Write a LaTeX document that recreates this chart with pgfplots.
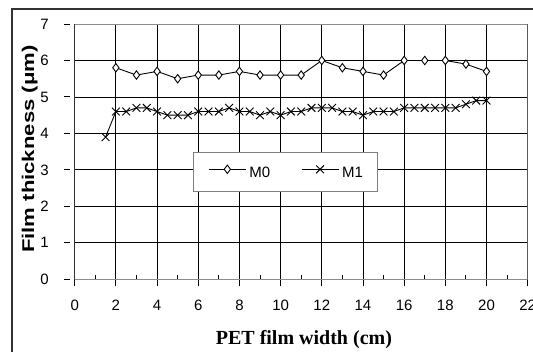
\documentclass[border=0pt]{standalone}
\usepackage{graphicx}
\usepackage{pgfplots}
\pgfplotsset{compat=1.18}
\usepackage{pgfplotstable}
\usepackage{fontspec}
\setmainfont{Liberation Sans}
\newfontfamily\timesfont{Liberation Serif}

\pgfplotstableread{
x y
2 5.8
3 5.6
4 5.7
5 5.5
6 5.6
7 5.6
8 5.7
9 5.6
10 5.6
11 5.6
12 6.0
13 5.8
14 5.7
15 5.6
16 6.0
17 6.0
18 6.0
19 5.9
20 5.7
}\mzero

\pgfplotstableread{
x y
1.5 3.9
2 4.6
2.5 4.6
3 4.7
3.5 4.7
4 4.6
4.5 4.5
5 4.5
5.5 4.5
6 4.6
6.5 4.6
7 4.6
7.5 4.7
8 4.6
8.5 4.6
9 4.5
9.5 4.6
10 4.5
10.5 4.6
11 4.6
11.5 4.7
12 4.7
12.5 4.7
13 4.6
13.5 4.6
14 4.5
14.5 4.6
15 4.6
15.5 4.6
16 4.7
16.5 4.7
17 4.7
17.5 4.7
18 4.7
18.5 4.7
19 4.8
19.5 4.9
20 4.9
}\mone

\begin{document}
\begin{tikzpicture}[x=1pt,y=1pt]
\path[use as bounding box, clip] (0,0) rectangle (533,352);
\fill[white] (0,0) rectangle (533,352);
\draw[line width=1.5pt, black!80] (12,343) rectangle (580,-30);
\begin{axis}[
  at={(74.7pt,72.7pt)}, anchor=south west,
  scale only axis, width=453pt, height=255.3pt,
  xmin=0, xmax=22, ymin=0, ymax=7,
  xtick={0,2,...,22}, ytick={0,1,...,7},
  minor x tick num=1,
  axis x line*=bottom, axis y line*=left,
  axis line style={-, black, line width=0.9pt},
  x axis line style={line width=1.5pt},
  grid=major,
  major grid style={black, line width=0.8pt},
  major tick length=11pt, minor tick length=4pt,
  xtick align=inside, ytick align=outside,
  major x tick style={black, line width=0.9pt, yshift=-7pt},
  minor x tick style={black, line width=0.9pt},
  major y tick style={black, line width=0.9pt, dash pattern=on 6.5pt off 10pt},
  tick label style={font=\fontsize{15}{18}\selectfont},
  /pgf/number format/assume math mode=true,
  xticklabel style={anchor=base, inner sep=0pt, yshift=-31.7pt},
  yticklabel style={anchor=east, inner sep=0pt, xshift=-14.7pt},
  xlabel={\timesfont\bfseries PET film width (cm)},
  xlabel style={font=\fontsize{20}{24}\selectfont, at={(axis description cs:0.506,-0.2573)}, anchor=base},
  ylabel={\scalebox{1.3}[1]{\bfseries Film thickness (μm)}},
  ylabel style={font=\fontsize{17}{20}\selectfont, at={(axis description cs:-0.0898,0.510)}, anchor=base},
  legend columns=2,
  legend style={at={(rel axis cs:0.261,0.5)}, anchor=north west, draw=black!50, line width=0.9pt, fill=white,
    font=\fontsize{15}{18}\selectfont, inner xsep=15pt, inner ysep=13pt,
    nodes={inner sep=0pt},
    /tikz/every odd column/.append style={column sep=3pt},
    /tikz/every even column/.append style={column sep=31pt}},
  legend image code/.code={\draw[mark repeat=2,mark phase=2,#1] plot coordinates {(0pt,3.5pt) (18.5pt,3.5pt) (37pt,3.5pt)};},
]
\draw[black!45, line width=0.9pt] (rel axis cs:0,0) rectangle (rel axis cs:1,1);
\addplot[black, line width=0.9pt, mark=diamond*, mark size=4.2pt, mark options={fill=white, draw=black, solid}] table[x=x,y=y] {\mzero};
\addlegendentry{M0}
\addplot[black, line width=0.9pt, mark=x, mark size=5.5pt, mark options={solid}] table[x=x,y=y] {\mone};
\addlegendentry{M1}
\end{axis}
\end{tikzpicture}
\end{document}
